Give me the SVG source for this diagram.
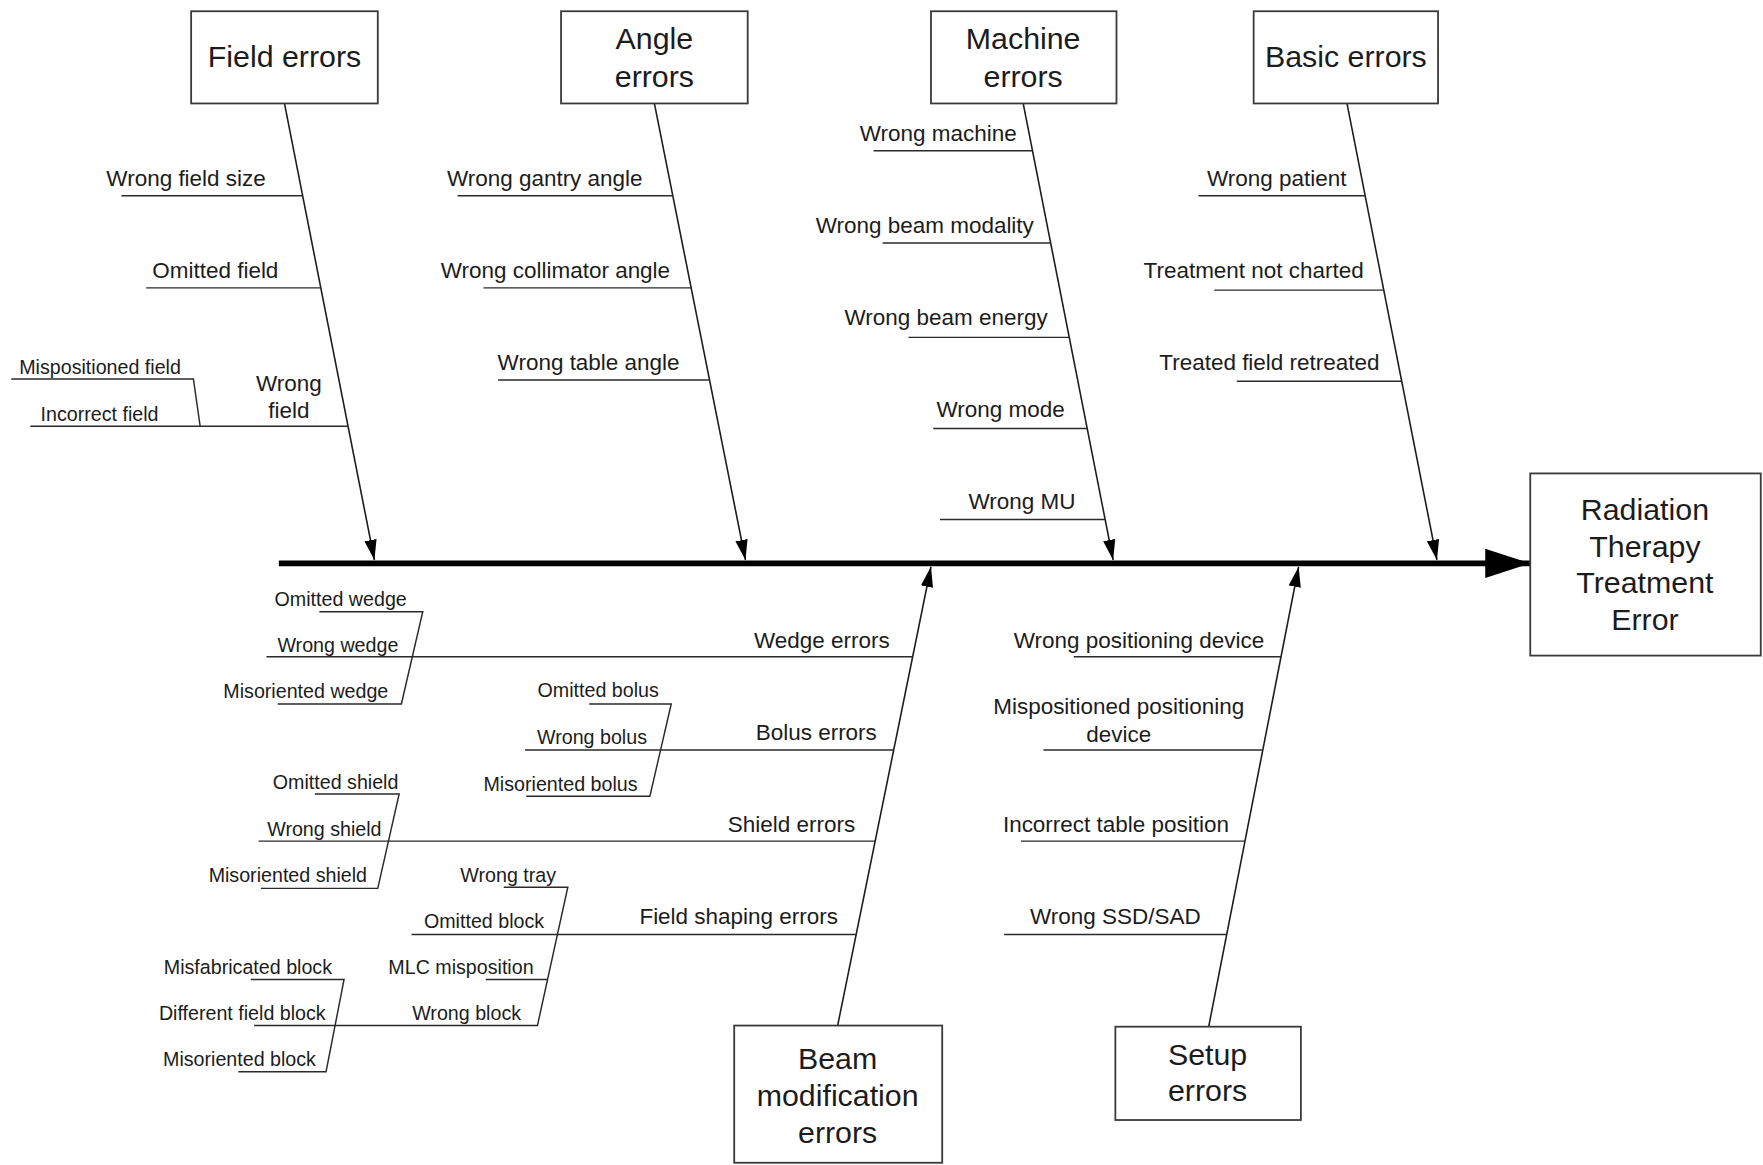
<svg xmlns="http://www.w3.org/2000/svg" width="1763" height="1165" viewBox="0 0 1763 1165">
<defs>
<style>
.box{fill:#fff;stroke:#3a3a3a;stroke-width:1.6}
.bt{font-family:"Liberation Sans",Arial,sans-serif;font-size:27px;fill:#1c1c1c;text-anchor:middle}
.lb{font-family:"Liberation Sans",Arial,sans-serif;font-size:20px;fill:#1c1c1c;text-anchor:middle}
.sl{font-family:"Liberation Sans",Arial,sans-serif;font-size:17.5px;fill:#1c1c1c;text-anchor:middle}
.sp{stroke:#1c1c1c;stroke-width:1.4;fill:none}
.br{stroke:#2a2a2a;stroke-width:1.3;fill:none}
.main{stroke:#000;stroke-width:5;fill:none}
</style>
<marker id="ah" markerUnits="userSpaceOnUse" markerWidth="18" markerHeight="11" refX="18" refY="5.5" orient="auto" viewBox="0 0 18 11">
<path d="M0,0 L18,5.5 L0,11 z" fill="#000"/>
</marker>
<marker id="mh" markerUnits="userSpaceOnUse" markerWidth="40" markerHeight="26" refX="40" refY="13" orient="auto" viewBox="0 0 40 26">
<path d="M0,0 L40,13 L0,26 z" fill="#000"/>
</marker>
</defs>
<rect width="1763" height="1165" fill="#fff"/>
<g transform="scale(1.12436,1.12452)">
<g id="connectors">
<line class="main" x1="248" y1="501" x2="1361" y2="501" marker-end="url(#mh)"/>
<line class="sp" x1="253" y1="92" x2="333" y2="498" marker-end="url(#ah)"/>
<line class="sp" x1="582" y1="92" x2="663" y2="498" marker-end="url(#ah)"/>
<line class="sp" x1="910" y1="92" x2="990" y2="498" marker-end="url(#ah)"/>
<line class="sp" x1="1198" y1="92" x2="1278" y2="498" marker-end="url(#ah)"/>
<line class="sp" x1="745" y1="912" x2="828" y2="504" marker-end="url(#ah)"/>
<line class="sp" x1="1075" y1="913" x2="1155" y2="504" marker-end="url(#ah)"/>
<!-- field errors branches -->
<line class="br" x1="108" y1="174" x2="269.2" y2="174"/>
<line class="br" x1="130" y1="256" x2="285.3" y2="256"/>
<line class="br" x1="27" y1="379" x2="309.5" y2="379"/>
<polyline class="br" points="10,337 172,337 178,379"/>
<!-- angle -->
<line class="br" x1="407" y1="174" x2="598.4" y2="174"/>
<line class="br" x1="430" y1="256" x2="614.7" y2="256"/>
<line class="br" x1="443" y1="338" x2="631.1" y2="338"/>
<!-- machine -->
<line class="br" x1="777" y1="134" x2="918.3" y2="134"/>
<line class="br" x1="785" y1="216" x2="934.4" y2="216"/>
<line class="br" x1="808" y1="300" x2="951" y2="300"/>
<line class="br" x1="830" y1="381" x2="966.9" y2="381"/>
<line class="br" x1="836" y1="462" x2="982.9" y2="462"/>
<!-- basic -->
<line class="br" x1="1066" y1="174" x2="1214.2" y2="174"/>
<line class="br" x1="1080" y1="258" x2="1230.7" y2="258"/>
<line class="br" x1="1100" y1="339" x2="1246.7" y2="339"/>
<!-- beam modification -->
<line class="br" x1="237" y1="584" x2="811.7" y2="584"/>
<polyline class="br" points="284,544 376,544 357,626 247,626"/>
<line class="br" x1="467" y1="667" x2="794.8" y2="667"/>
<polyline class="br" points="524,626 597,626 578,708 468,708"/>
<line class="br" x1="230" y1="748" x2="778.4" y2="748"/>
<polyline class="br" points="280,706 355,706 336,790 232,790"/>
<line class="br" x1="366" y1="831" x2="761.5" y2="831"/>
<polyline class="br" points="448,789 505,789 478,912 226,912"/>
<line class="br" x1="432" y1="871" x2="487" y2="871"/>
<polyline class="br" points="223,871 306,871 290,953 212,953"/>
<!-- setup -->
<line class="br" x1="955" y1="584" x2="1139.3" y2="584"/>
<line class="br" x1="928" y1="667" x2="1123" y2="667"/>
<line class="br" x1="908" y1="748" x2="1107.1" y2="748"/>
<line class="br" x1="893" y1="831" x2="1090.9" y2="831"/>
</g>
<g id="node-field-errors">
<rect class="box" x="170" y="10" width="166" height="82"/>
<text class="bt" x="253" y="59.5">Field errors</text>
</g>
<g id="node-angle-errors">
<rect class="box" x="499" y="10" width="166" height="82"/>
<text class="bt" x="582" y="44">Angle</text>
<text class="bt" x="582" y="77">errors</text>
</g>
<g id="node-machine-errors">
<rect class="box" x="828" y="10" width="165" height="82"/>
<text class="bt" x="910" y="44">Machine</text>
<text class="bt" x="910" y="77">errors</text>
</g>
<g id="node-basic-errors">
<rect class="box" x="1115" y="10" width="164" height="82"/>
<text class="bt" x="1197" y="59.5">Basic errors</text>
</g>
<g id="node-effect">
<rect class="box" x="1361" y="421" width="205" height="162"/>
<text class="bt" x="1463" y="462.5">Radiation</text>
<text class="bt" x="1463" y="495.5">Therapy</text>
<text class="bt" x="1463" y="527.5">Treatment</text>
<text class="bt" x="1463" y="560.5">Error</text>
</g>
<g id="node-beam-modification-errors">
<rect class="box" x="653" y="912" width="185" height="122"/>
<text class="bt" x="745" y="950.5">Beam</text>
<text class="bt" x="745" y="983.5">modification</text>
<text class="bt" x="745" y="1016.5">errors</text>
</g>
<g id="node-setup-errors">
<rect class="box" x="992" y="913" width="165" height="83"/>
<text class="bt" x="1074" y="947.5">Setup</text>
<text class="bt" x="1074" y="979.5">errors</text>
</g>
<g id="labels-field">
<text class="lb" x="165.5" y="165">Wrong field size</text>
<text class="lb" x="191.5" y="247">Omitted field</text>
<text class="lb" x="257" y="348">Wrong</text>
<text class="lb" x="257" y="372">field</text>
<text class="sl" x="89" y="333">Mispositioned field</text>
<text class="sl" x="88.5" y="374">Incorrect field</text>
</g>
<g id="labels-angle">
<text class="lb" x="484.5" y="165">Wrong gantry angle</text>
<text class="lb" x="494" y="247">Wrong collimator angle</text>
<text class="lb" x="523.5" y="329">Wrong table angle</text>
</g>
<g id="labels-machine">
<text class="lb" x="834.5" y="125">Wrong machine</text>
<text class="lb" x="822.5" y="207">Wrong beam modality</text>
<text class="lb" x="841.5" y="289">Wrong beam energy</text>
<text class="lb" x="890" y="371">Wrong mode</text>
<text class="lb" x="909" y="453">Wrong MU</text>
</g>
<g id="labels-basic">
<text class="lb" x="1135.5" y="165">Wrong patient</text>
<text class="lb" x="1115" y="247">Treatment not charted</text>
<text class="lb" x="1129" y="329">Treated field retreated</text>
</g>
<g id="labels-beam">
<text class="lb" x="731" y="576">Wedge errors</text>
<text class="sl" x="303" y="539">Omitted wedge</text>
<text class="sl" x="300.5" y="580">Wrong wedge</text>
<text class="sl" x="272" y="621">Misoriented wedge</text>
<text class="lb" x="726" y="658">Bolus errors</text>
<text class="sl" x="532" y="620">Omitted bolus</text>
<text class="sl" x="526.5" y="662">Wrong bolus</text>
<text class="sl" x="498.5" y="703">Misoriented bolus</text>
<text class="lb" x="704" y="740">Shield errors</text>
<text class="sl" x="298.5" y="702">Omitted shield</text>
<text class="sl" x="288.5" y="743">Wrong shield</text>
<text class="sl" x="256" y="784">Misoriented shield</text>
<text class="lb" x="657" y="822">Field shaping errors</text>
<text class="sl" x="452" y="784">Wrong tray</text>
<text class="sl" x="430.5" y="825">Omitted block</text>
<text class="sl" x="410" y="866">MLC misposition</text>
<text class="sl" x="415" y="907">Wrong block</text>
<text class="sl" x="220.5" y="866">Misfabricated block</text>
<text class="sl" x="215.5" y="907">Different field block</text>
<text class="sl" x="213" y="948">Misoriented block</text>
</g>
<g id="labels-setup">
<text class="lb" x="1013" y="576">Wrong positioning device</text>
<text class="lb" x="995" y="635">Mispositioned positioning</text>
<text class="lb" x="995" y="660">device</text>
<text class="lb" x="992.5" y="740">Incorrect table position</text>
<text class="lb" x="992" y="822">Wrong SSD/SAD</text>
</g>
</g>
</svg>
